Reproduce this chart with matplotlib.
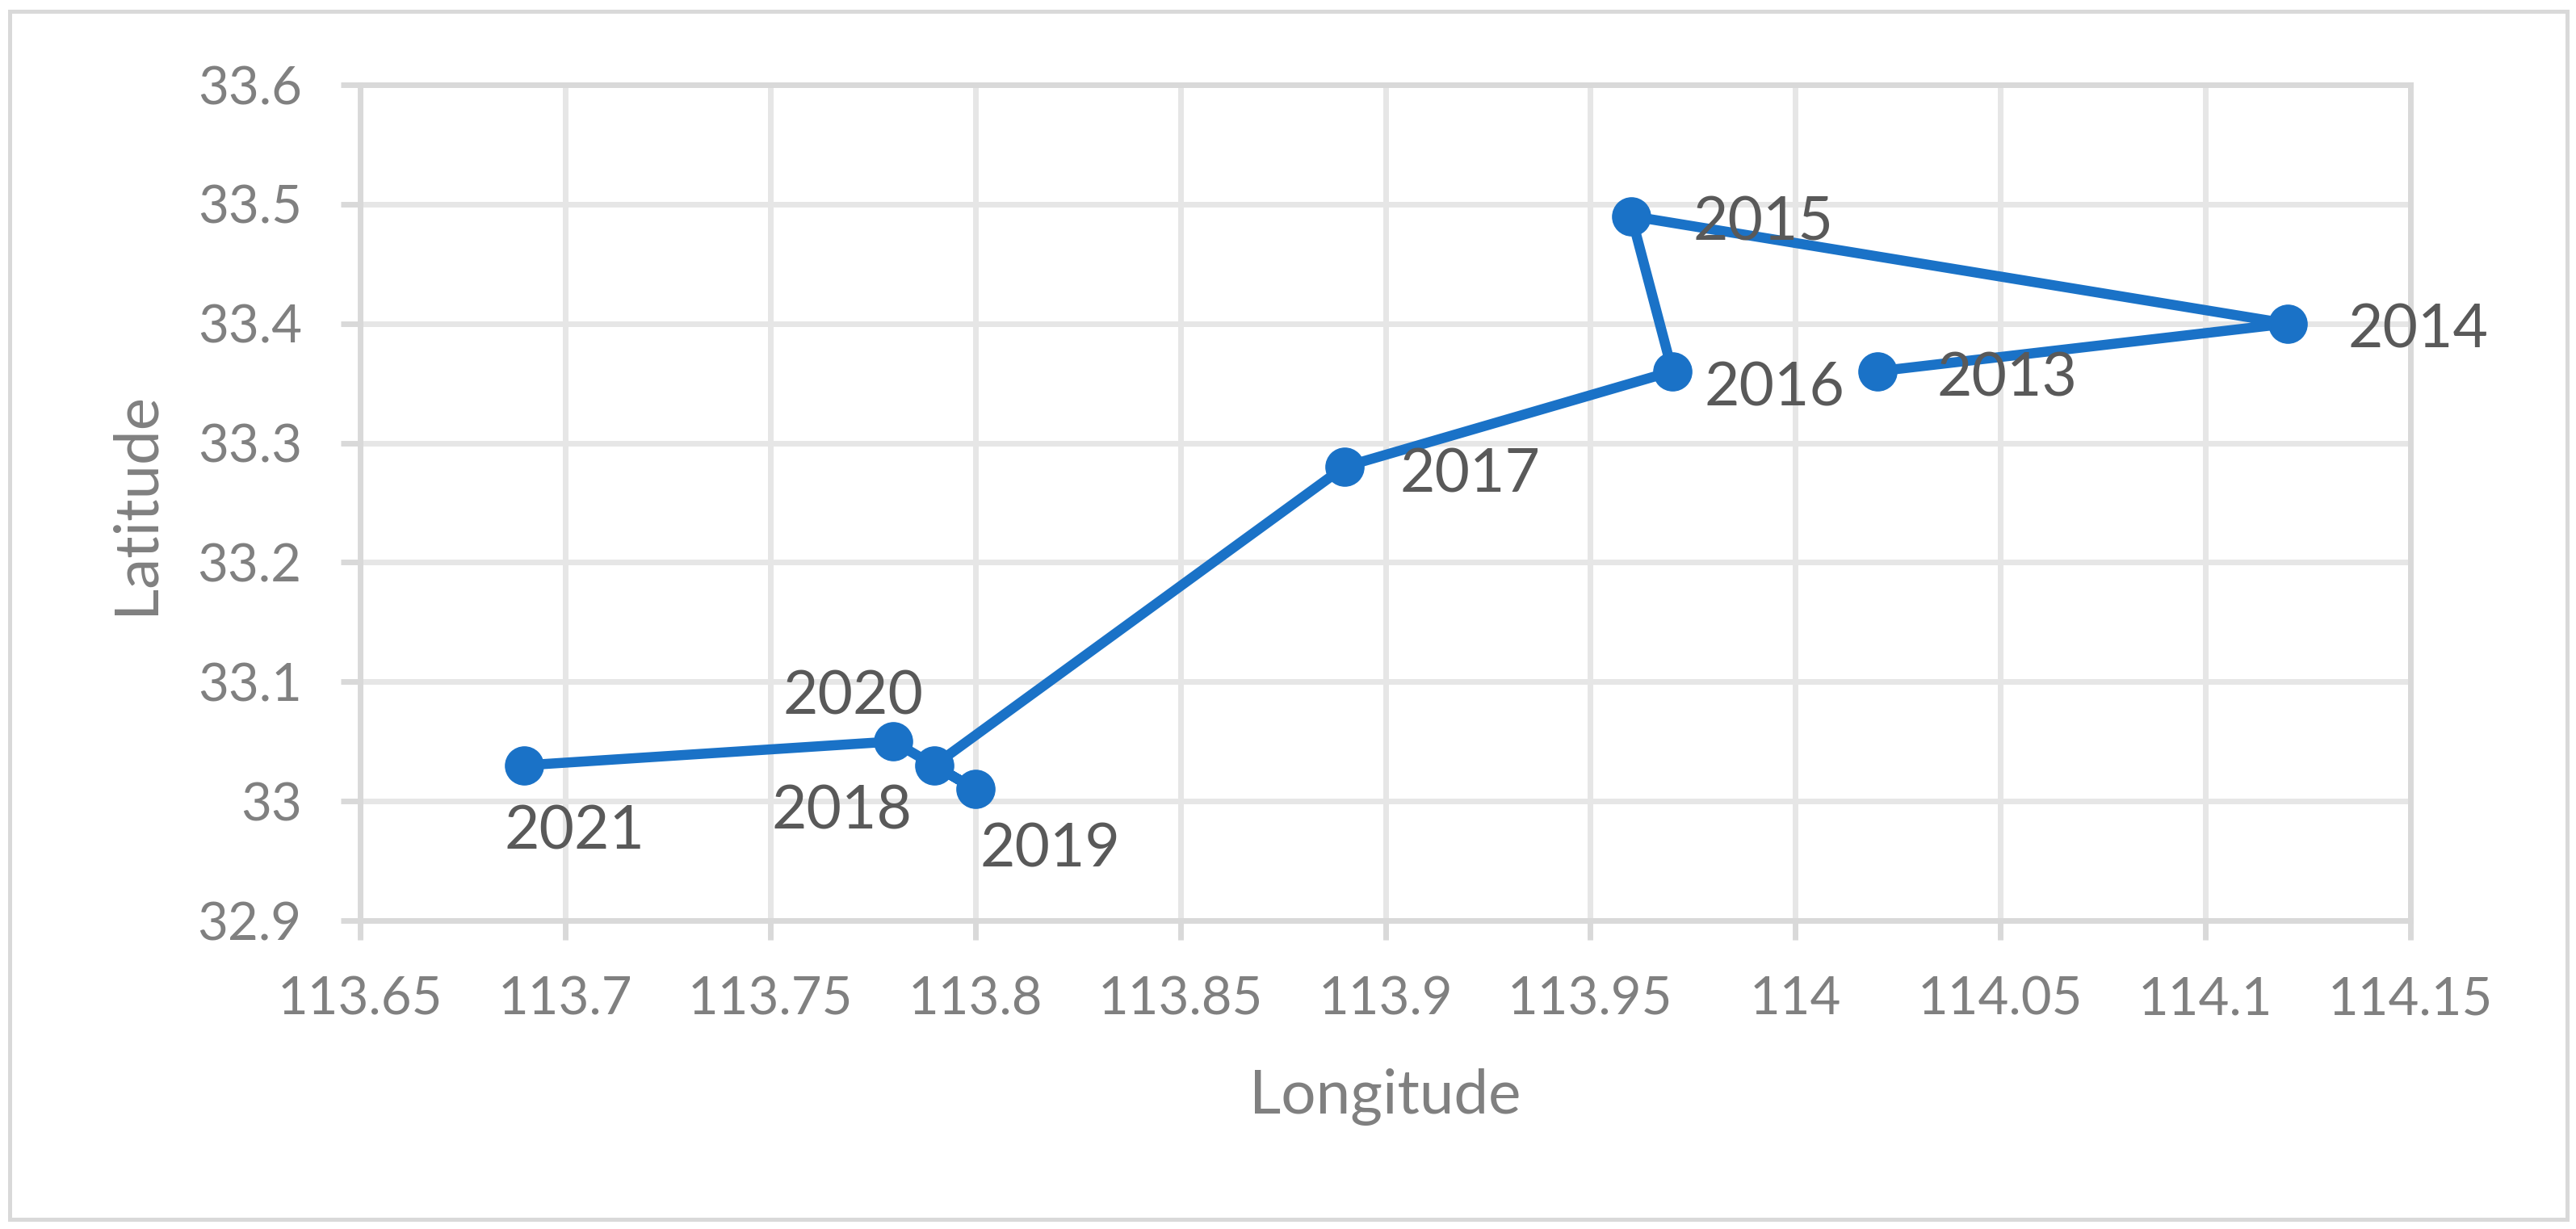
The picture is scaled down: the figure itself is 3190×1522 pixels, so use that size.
import matplotlib
matplotlib.use('Agg')
import matplotlib.pyplot as plt
from matplotlib.patches import Rectangle

# ---------------- data ----------------
years = ['2013', '2014', '2015', '2016', '2017', '2018', '2019', '2020', '2021']
longitude = [114.02, 114.12, 113.96, 113.97, 113.89, 113.79, 113.80, 113.78, 113.69]
latitude = [33.36, 33.40, 33.49, 33.36, 33.28, 33.03, 33.01, 33.05, 33.03]

x_ticks = [113.65, 113.70, 113.75, 113.80, 113.85, 113.90, 113.95, 114.00, 114.05, 114.10, 114.15]
x_tick_labels = ['113.65', '113.7', '113.75', '113.8', '113.85', '113.9', '113.95',
                 '114', '114.05', '114.1', '114.15']
y_ticks = [32.9, 33.0, 33.1, 33.2, 33.3, 33.4, 33.5, 33.6]
y_tick_labels = ['32.9', '33', '33.1', '33.2', '33.3', '33.4', '33.5', '33.6']

x_title = 'Longitude'
y_title = 'Latitude'

# ---------------- style ----------------
# label placement (pixel offsets from the point: dx, dy-down, horizontal alignment)
label_style = {
    '2013': (74, 4, 'left'),
    '2014': (75, 3, 'left'),
    '2015': (76, 3, 'left'),
    '2016': (40, 16, 'left'),
    '2017': (69, 4, 'left'),
    '2018': (-114, 52, 'center'),
    '2019': (93, 69, 'center'),
    '2020': (-50, -61, 'center'),
    '2021': (62, 77, 'center'),
}

BLUE = '#1A72C7'
GRID = '#E6E6E6'
AXIS = '#D9D9D9'
TICK_TXT = '#808080'
LABEL_TXT = '#595959'

plt.rcParams['font.family'] = ['Lato', 'DejaVu Sans']

W, H = 3190, 1522
DPI = 100
fig = plt.figure(figsize=(W / DPI, H / DPI), dpi=DPI)
fig.patch.set_facecolor('white')

L, R, T, B = 446, 2985, 105, 1140
ax = fig.add_axes([L / W, 1 - B / H, (R - L) / W, (B - T) / H])

ax.plot(longitude, latitude, color=BLUE, lw=9, marker='o', ms=34,
        mfc=BLUE, mec=BLUE, solid_joinstyle='round', solid_capstyle='round',
        zorder=3, clip_on=False)

ax.set_xlim(x_ticks[0], x_ticks[-1])
ax.set_ylim(y_ticks[0], y_ticks[-1])
ax.set_xticks(x_ticks)
ax.set_xticklabels(x_tick_labels)
ax.set_yticks(y_ticks)
ax.set_yticklabels(y_tick_labels)

ax.grid(True, color=GRID, lw=5)
ax.set_axisbelow(True)
for s in ax.spines.values():
    s.set_color(AXIS)
    s.set_linewidth(5)

ax.tick_params(axis='both', direction='out', length=17, width=5, color=AXIS,
               labelsize=47, labelcolor=TICK_TXT)
ax.tick_params(axis='x', pad=32)
ax.tick_params(axis='y', pad=35)

ax.set_xlabel(x_title, fontsize=55, color=TICK_TXT)
ax.set_ylabel(y_title, fontsize=55, color=TICK_TXT)
ax.xaxis.set_label_coords(0.5, (B - 1359) / (B - T))
ax.xaxis.label.set_va('center')
ax.yaxis.set_label_coords(-(L - 168) / (R - L), 0.5)
ax.yaxis.label.set_va('center')

LABEL_PT = 54
cap_half = 0.717 * LABEL_PT * DPI / 72 / 2
for yr, lo, la in zip(years, longitude, latitude):
    dx, dy, ha = label_style[yr]
    ax.annotate(yr, (lo, la), xytext=(dx, -(dy + cap_half)),
                textcoords='offset pixels', ha=ha, va='baseline',
                fontsize=LABEL_PT, color=LABEL_TXT, zorder=4)

fig.add_artist(Rectangle((12 / W, 1 - 1510 / H), (3179 - 12) / W, (1510 - 14) / H,
                         transform=fig.transFigure, fill=False, ec=AXIS, lw=3.6))

fig.savefig('out.png', dpi=DPI)
